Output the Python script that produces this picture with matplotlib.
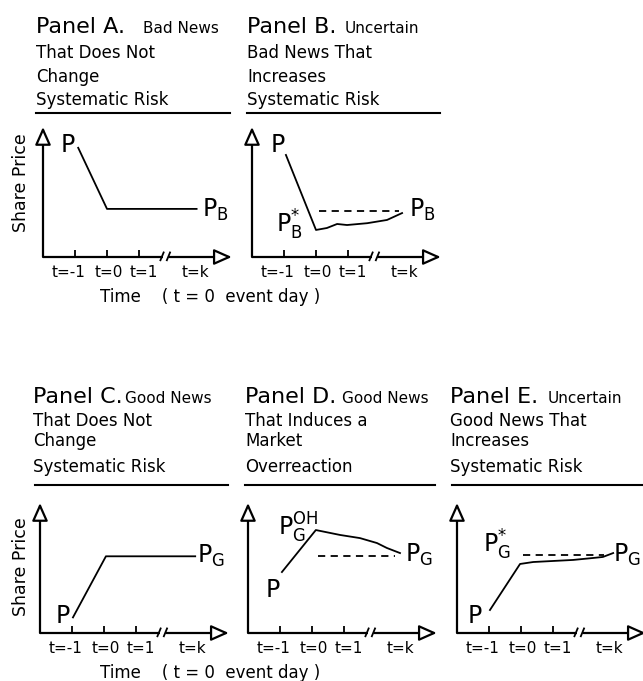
import matplotlib
matplotlib.use("Agg")
import matplotlib.pyplot as plt
from matplotlib.lines import Line2D
from matplotlib.transforms import ScaledTranslation

W, H = 643, 681

# time axis: three event days, then a break, then t=k
tick_pos = [-1, 0, 1]
tick_lab = ["t=-1", "t=0", "t=1"]
tick_nudge = [-6, 2, 5]   # px, the scan sets the labels a little off the ticks
k_pos = 2.75
k_lab = "t=k"
break_pos = 1.85

# price paths (x in days, y in arbitrary price units)
a_x = [-0.9, 0.0, 2.8]
a_y = [8.4, 3.7, 3.7]
b_x = [-0.94, 0.0, 0.34, 0.66, 0.97, 1.6, 2.22, 2.69]
b_y = [7.85, 2.08, 2.23, 2.54, 2.46, 2.6, 2.85, 3.38]
b_dash_x = [0.1, 2.6]
b_dash_y = [3.55, 3.55]
c_x = [-0.97, 0.06, 2.85]
c_y = [1.2, 5.9, 5.9]
d_x = [-0.94, 0.12, 0.88, 1.5, 2.03, 2.34, 2.75]
d_y = [4.69, 7.92, 7.54, 7.3, 6.92, 6.54, 6.15]
d_dash_x = [0.2, 2.6]
d_dash_y = [5.9, 5.9]
e_x = [-0.97, -0.03, 0.38, 1.0, 1.63, 2.25, 2.56, 2.88]
e_y = [1.77, 5.31, 5.46, 5.54, 5.62, 5.77, 5.85, 6.15]
e_dash_x = [0.05, 2.6]
e_dash_y = [6.0, 6.0]

# point labels: (text, x, y)
a_labels = [(r"$\mathrm{P}$", -1.47, 8.1), (r"$\mathrm{P}_\mathrm{B}$", 2.97, 3.1)]
b_labels = [(r"$\mathrm{P}$", -1.44, 8.1), (r"$\mathrm{P}_\mathrm{B}^{*}$", -1.25, 1.85),
            (r"$\mathrm{P}_\mathrm{B}$", 2.9, 3.1)]
c_labels = [(r"$\mathrm{P}$", -1.53, 0.77), (r"$\mathrm{P}_\mathrm{G}$", 2.9, 5.4)]
d_labels = [(r"$\mathrm{P}_\mathrm{G}^{\mathrm{OH}}$", -1.06, 7.5), (r"$\mathrm{P}$", -1.47, 2.8),
            (r"$\mathrm{P}_\mathrm{G}$", 2.9, 5.45)]
e_labels = [(r"$\mathrm{P}_\mathrm{G}^{*}$", -1.19, 6.2), (r"$\mathrm{P}$", -1.69, 0.77),
            (r"$\mathrm{P}_\mathrm{G}$", 2.88, 5.45)]

a_title = ["Panel A.", "Bad News", "That Does Not", "Change", "Systematic Risk"]
b_title = ["Panel B.", "Uncertain", "Bad News That", "Increases", "Systematic Risk"]
c_title = ["Panel C.", "Good News", "That Does Not", "Change", "Systematic Risk"]
d_title = ["Panel D.", "Good News", "That Induces a", "Market", "Overreaction"]
e_title = ["Panel E.", "Uncertain", "Good News That", "Increases", "Systematic Risk"]

plt.rcParams['font.family'] = ['DejaVu Sans']
plt.rcParams['mathtext.fontset'] = 'dejavusans'

fig = plt.figure(figsize=(W / 100, H / 100), dpi=100)
fig.patch.set_facecolor('white')


def fx(x):
    return x / W


def fy(y):
    return 1 - y / H


def draw_panel(ox, oy, px, py, labels, title, tx, tx2, base, rule, dash=None):
    ax = fig.add_axes([fx(ox), fy(oy), 5.95 * 32 / W, 10.2 * 13 / H])
    ax.set_xlim(-2, 3.95)
    ax.set_ylim(0, 10.2)
    for s in ax.spines.values():
        s.set_visible(False)
    ax.set_yticks([])
    ax.set_xticks(tick_pos, tick_lab)
    ax.set_xticks([k_pos], [k_lab], minor=True)
    ax.tick_params(axis='x', which='major', direction='in', length=5, width=1.3,
                   pad=6, labelsize=11)
    ax.tick_params(axis='x', which='minor', length=0, pad=6, labelsize=11)
    for lab, dx in zip(ax.get_xticklabels(), tick_nudge):
        lab.set_transform(lab.get_transform() + ScaledTranslation(dx / 100, 0, fig.dpi_scale_trans))
    ax.patch.set_alpha(0)

    arr = dict(arrowstyle='-|>,head_length=0.9,head_width=0.4', fc='white', ec='black',
               lw=1.6, shrinkA=0, shrinkB=0, mutation_scale=12)
    ax.annotate('', xy=(-2, 10), xytext=(-2, 0), arrowprops=arr, annotation_clip=False)
    ax.annotate('', xy=(3.9, 0), xytext=(break_pos + 0.1, 0), arrowprops=arr,
                annotation_clip=False)
    ax.plot([-2, break_pos - 0.1], [0, 0], color='black', lw=1.6, solid_capstyle='butt',
            clip_on=False)
    for bx in (break_pos - 0.1, break_pos + 0.1):
        ax.plot([bx - 0.08, bx + 0.02], [-0.25, 0.35], color='black', lw=1.3, clip_on=False)

    ax.plot(px, py, color='black', lw=1.3, clip_on=False)
    if dash is not None:
        ax.plot(dash[0], dash[1], color='black', lw=1.3, ls=(0, (4, 3)))
    for t, x, y in labels:
        ax.text(x, y, t, fontsize=17, ha='left', va='baseline')

    fig.text(fx(tx), fy(base[0]), title[0], fontsize=16, va='baseline', ha='left')
    fig.text(fx(tx2), fy(base[0]), title[1], fontsize=11, va='baseline', ha='left')
    for line, b in zip(title[2:], base[1:]):
        fig.text(fx(tx), fy(b), line, fontsize=12, va='baseline', ha='left')
    fig.add_artist(Line2D([fx(rule[0]), fx(rule[1])], [fy(rule[2]), fy(rule[2])],
                          color='black', lw=1.5, transform=fig.transFigure))
    return ax


top_base = [33, 58, 82, 105]
bot_base = [403, 426, 446, 472]

draw_panel(43, 257, a_x, a_y, a_labels, a_title, 36, 143, top_base, (36, 230, 113))
draw_panel(252, 257, b_x, b_y, b_labels, b_title, 247, 345, top_base, (247, 440, 113),
           dash=(b_dash_x, b_dash_y))
draw_panel(40, 633, c_x, c_y, c_labels, c_title, 33, 125, bot_base, (35, 228, 485))
draw_panel(248, 633, d_x, d_y, d_labels, d_title, 245, 342, bot_base, (245, 435, 485),
           dash=(d_dash_x, d_dash_y))
draw_panel(457, 633, e_x, e_y, e_labels, e_title, 450, 548, bot_base, (452, 643, 485),
           dash=(e_dash_x, e_dash_y))

# shared axis captions
for yc in (183, 567):
    fig.text(fx(21), fy(yc), "Share Price", rotation=90, fontsize=12.5, ha='center',
             va='center')
for yc in (297, 673):
    fig.text(fx(100), fy(yc), "Time    ( t = 0  event day )", fontsize=12, ha='left',
             va='center')

fig.savefig("out.png", dpi=100, facecolor='white')
